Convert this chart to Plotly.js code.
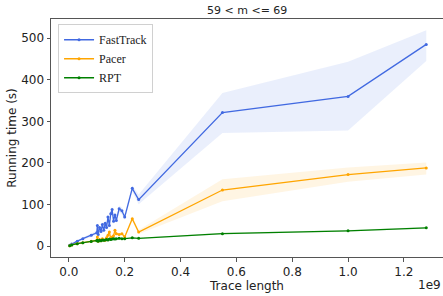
<!DOCTYPE html>
<html>
<head>
<meta charset="utf-8">
<script src="https://cdn.plot.ly/plotly-3.0.1.min.js"></script>
<style>html,body{margin:0;padding:0;background:#fff;}#chart{width:443px;height:296px;}</style>
</head>
<body>
<div id="chart"></div>
<script>
// Trace length (in units of 1e9)
const traceLength = [0.003,0.01,0.03,0.05,0.08,0.1,0.102,0.105,0.11,0.115,0.12,0.125,0.13,0.135,0.14,0.145,0.15,0.155,0.16,0.165,0.17,0.18,0.19,0.2,0.227,0.25,0.55,1.0,1.28];

const fastTrack      = [2,5,12,18,26,32,50,28,45,35,52,38,55,45,70,50,78,88,60,75,62,90,85,70,139,112,321,360,485];
const fastTrackUpper = [3,7,14,21,30,37,56,33,51,41,58,44,62,52,77,57,86,96,67,83,70,98,93,78,146,124,368,443,519];
const fastTrackLower = [1,4,10,15,22,28,44,24,39,30,46,33,49,39,63,44,70,80,53,67,55,82,77,63,131,101,272,278,445];

const pacer      = [1,3,6,8,12,14,22,12,16,13,18,15,14,20,26,34,18,22,25,38,30,28,30,22,66,34,135,172,188];
const pacerUpper = [2,4,8,10,14,16,25,14,18,15,20,17,16,22,29,37,20,25,28,42,33,31,33,25,72,39,161,189,201];
const pacerLower = [0,2,5,7,10,12,19,10,14,11,16,13,12,18,23,31,16,19,22,34,27,25,27,19,60,29,108,155,172];

const rpt      = [1,3,6,8,11,13,14,12,14,13,15,14,15,16,15,17,16,17,18,17,18,19,18,18,20,19,30,37,44];
const rptUpper = [2,4,7,9,12,14,15,13,15,14,16,15,16,17,16,18,17,18,19,18,19,20,19,19,21,20,32,39,46];
const rptLower = [0,2,5,7,10,12,13,11,13,12,14,13,14,15,14,16,15,16,17,16,17,18,17,17,19,18,28,35,42];

const xTickVals = [0,0.2,0.4,0.6,0.8,1.0,1.2];
const xTickText = ["0.0","0.2","0.4","0.6","0.8","1.0","1.2"];
const yTickVals = [0,100,200,300,400,500];

const SCALE = 1e9;
const xs = traceLength.map(v => v*SCALE);

function band(upper, lower, color) {
  return {
    x: xs.concat(xs.slice().reverse()),
    y: upper.concat(lower.slice().reverse()),
    fill: 'toself', fillcolor: color, mode: 'lines', line: {width: 0},
    hoverinfo: 'skip', showlegend: false, type: 'scatter'
  };
}
function series(y, name, color) {
  return {
    x: xs, y: y, name: name, type: 'scatter', mode: 'lines+markers',
    line: {color: color, width: 1.3}, marker: {color: color, size: 3}
  };
}

const data = [
  band(fastTrackUpper, fastTrackLower, 'rgba(65,105,225,0.11)'),
  band(pacerUpper, pacerLower, 'rgba(255,165,0,0.11)'),
  band(rptUpper, rptLower, 'rgba(0,128,0,0.11)'),
  series(fastTrack, 'FastTrack', '#4169E1'),
  series(pacer, 'Pacer', '#FFA500'),
  series(rpt, 'RPT', '#008000')
];

const font = {family: 'DejaVu Sans', size: 12, color: '#222'};
const layout = {
  width: 443, height: 296,
  margin: {l: 51, r: 0, t: 19, b: 39},
  paper_bgcolor: '#fff', plot_bgcolor: '#fff',
  font: font,
  title: {text: '59 &lt; m &lt;= 69', font: {family: 'DejaVu Sans', size: 11, color: '#222'},
          x: 0.558, xanchor: 'center', y: 0.965, yanchor: 'middle'},
  xaxis: {
    range: [-0.064*SCALE, 1.34*SCALE],
    tickvals: xTickVals.map(v => v*SCALE), ticktext: xTickText,
    showgrid: false, zeroline: false,
    showline: true, linecolor: '#555', linewidth: 1, mirror: true,
    ticks: 'outside', ticklen: 3.5, tickcolor: '#555', tickwidth: 1,
    tickfont: font,
    title: {text: 'Trace length', font: font, standoff: 0}
  },
  yaxis: {
    range: [-26, 546],
    tickvals: yTickVals,
    showgrid: false, zeroline: false,
    showline: true, linecolor: '#555', linewidth: 1,
    ticks: 'outside', ticklen: 3.5, tickcolor: '#555', tickwidth: 1,
    tickfont: font,
    title: {text: 'Running time (s)', font: font, standoff: 1}
  },
  legend: {
    x: 0.018, y: 0.978, xanchor: 'left', yanchor: 'top',
    bgcolor: 'rgba(255,255,255,0.9)', bordercolor: '#d0d0d0', borderwidth: 1,
    font: {family: 'Liberation Serif', size: 12, color: '#222'},
    tracegroupgap: 0, itemwidth: 30
  },
  annotations: [{
    text: '1e9', xref: 'paper', yref: 'paper', x: 1, y: 0,
    xanchor: 'right', yanchor: 'top', yshift: -19, showarrow: false, font: font
  }],
  showlegend: true
};

Plotly.newPlot('chart', data, layout, {displayModeBar: false, staticPlot: true});
</script>
</body>
</html>
